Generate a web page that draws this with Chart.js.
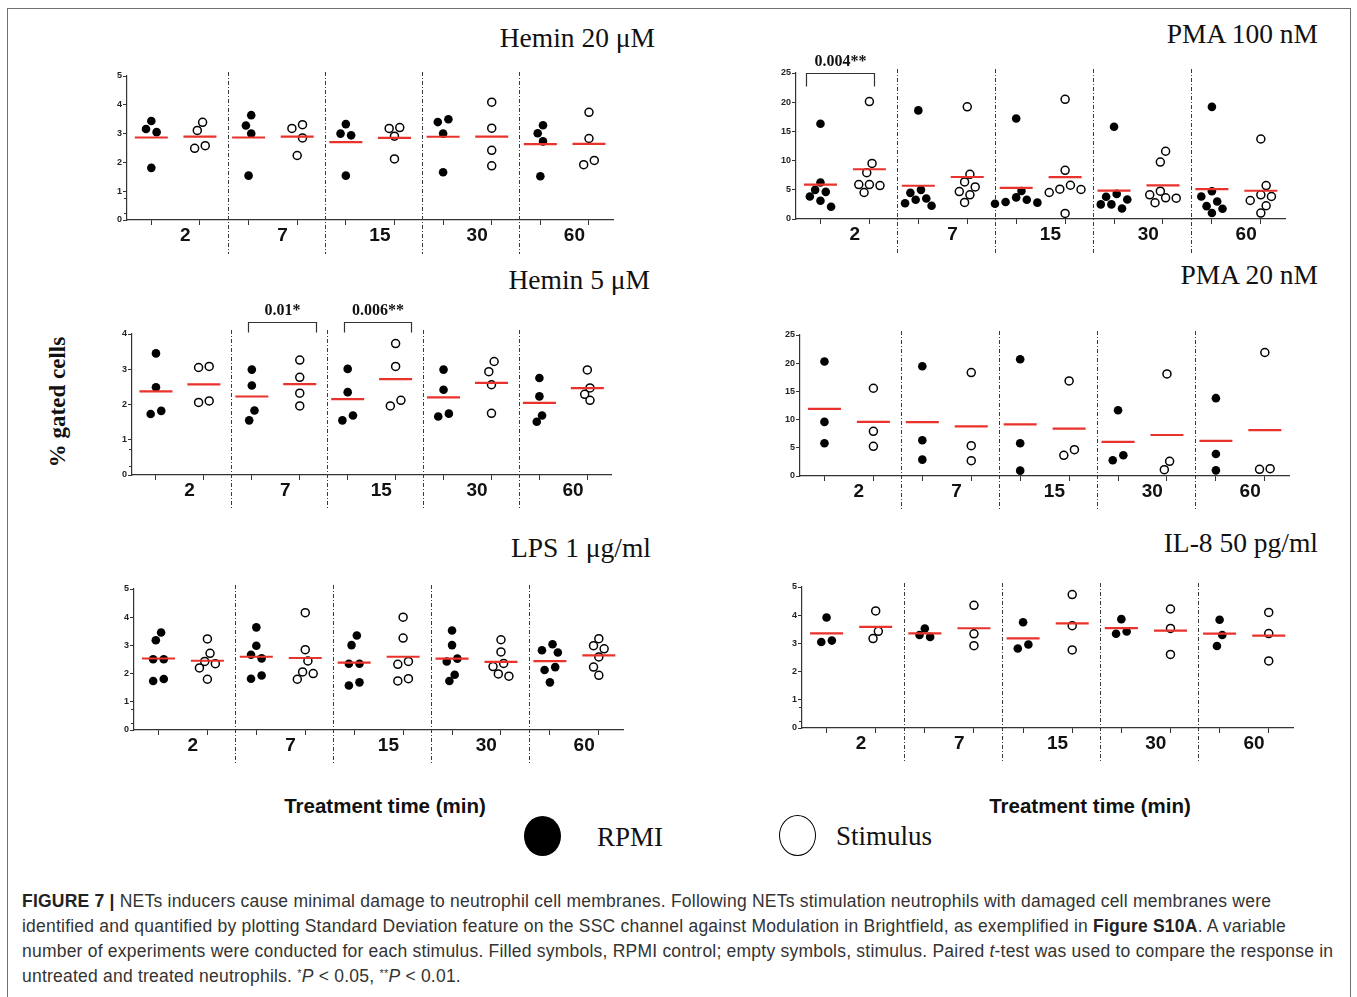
<!DOCTYPE html>
<html>
<head>
<meta charset="utf-8">
<script src="https://cdn.jsdelivr.net/npm/chart.js@4.4.1/dist/chart.umd.min.js"></script>
<style>
  html, body { margin: 0; padding: 0; background: #fff; }
  body { width: 1357px; height: 997px; position: relative; overflow: hidden;
         font-family: "Liberation Sans", Arial, sans-serif; }
  #frame { position: absolute; left: 7px; top: 8px; width: 1342px; height: 1000px;
           border: 1.5px solid #707070; border-bottom: none; }
  canvas { position: absolute; }
  .ttl { position: absolute; font-family: "Liberation Serif", "Times New Roman", serif;
         font-size: 27.5px; color: #111; white-space: nowrap; line-height: 30px; }
  .xt { position: absolute; font-weight: bold; font-size: 20.5px; color: #111;
        white-space: nowrap; line-height: 22px; transform: translateX(-50%); }
  #ylab { position: absolute; left: 58px; top: 402px; font-family: "Liberation Serif", serif;
          font-weight: bold; font-size: 23px; color: #111; white-space: nowrap;
          transform: translate(-50%, -50%) rotate(-90deg); }
  .leg { position: absolute; font-family: "Liberation Serif", serif; font-size: 27px;
         color: #111; line-height: 30px; white-space: nowrap; }
  .dot { position: absolute; border-radius: 50%; box-sizing: border-box; }
  #caption { position: absolute; left: 22px; top: 889px; font-size: 17.5px; line-height: 25px;
             letter-spacing: 0.22px; color: #333; white-space: nowrap; }
  #caption b { color: #222; }
  .sup { position: relative; top: -0.45em; font-size: 11px; }
</style>
</head>
<body>
<div id="frame"></div>

<div class="ttl" style="right:702px; top:23px;">Hemin 20 μM</div>
<div class="ttl" style="right:39px; top:19px;">PMA 100 nM</div>
<div class="ttl" style="right:707px; top:265px;">Hemin 5 μM</div>
<div class="ttl" style="right:39px; top:260px;">PMA 20 nM</div>
<div class="ttl" style="right:706px; top:533px;">LPS 1 μg/ml</div>
<div class="ttl" style="right:39px; top:528px;">IL-8 50 pg/ml</div>

<div id="ylab">% gated cells</div>

<div class="xt" style="left:385px; top:795px;">Treatment time (min)</div>
<div class="xt" style="left:1090px; top:795px;">Treatment time (min)</div>

<div class="dot" style="left:524px; top:816px; width:37px; height:40px; background:#000;"></div>
<div class="leg" style="left:597px; top:822px;">RPMI</div>
<div class="dot" style="left:779px; top:815px; width:37px; height:41px; border:1.6px solid #000;"></div>
<div class="leg" style="left:836px; top:821px;">Stimulus</div>

<div id="caption">
<b>FIGURE 7 |</b> NETs inducers cause minimal damage to neutrophil cell membranes. Following NETs stimulation neutrophils with damaged cell membranes were<br>
identified and quantified by plotting Standard Deviation feature on the SSC channel against Modulation in Brightfield, as exemplified in <b>Figure S10A</b>. A variable<br>
number of experiments were conducted for each stimulus. Filled symbols, RPMI control; empty symbols, stimulus. Paired <i>t</i>-test was used to compare the response in<br>
untreated and treated neutrophils. <span class="sup">*</span><i>P</i> &lt; 0.05, <span class="sup">**</span><i>P</i> &lt; 0.01.
</div>

<script>
// treatment times (min), one group of two columns each
const times = ["2", "7", "15", "30", "60"];

// Hemin 20 µM
const hemin20Rpmi = [[3.44, 3.16, 3.05, 1.81], [3.64, 3.28, 3.0, 1.54], [3.33, 3.0, 2.94, 1.54], [3.5, 3.4, 3.0, 1.66], [3.29, 3.01, 2.73, 1.52]];
const hemin20Stim = [[3.39, 3.11, 2.58, 2.49], [3.31, 3.18, 2.85, 2.24], [3.21, 3.18, 2.91, 2.12], [4.09, 3.19, 2.42, 1.88], [3.74, 2.83, 2.07, 1.92]];

// PMA 100 nM
const pma100Rpmi = [[16.3, 6.24, 4.99, 4.65, 3.85, 3.12, 2.1], [18.6, 4.99, 4.48, 3.51, 3.29, 2.7, 2.27], [17.2, 4.8, 3.7, 3.3, 2.9, 2.8, 2.6], [15.8, 4.3, 3.8, 3.34, 2.5, 2.5, 1.8], [19.2, 4.76, 3.85, 3.0, 2.2, 1.76, 1.02]];
const pma100Stim = [[20.1, 9.52, 7.94, 5.9, 5.9, 5.73, 4.54], [19.2, 7.65, 6.35, 5.5, 4.7, 4.14, 2.83], [20.5, 8.33, 5.78, 5.1, 5.05, 4.54, 0.96], [11.6, 9.75, 4.76, 4.14, 3.63, 3.57, 2.78], [13.7, 5.73, 4.14, 3.85, 3.17, 2.27, 1.02]];
const pma100Sig = [{ group: 0, text: "0.004**" }];

// Hemin 5 µM
const hemin5Rpmi = [[3.45, 2.49, 1.82, 1.73], [2.99, 2.54, 1.83, 1.55], [3.01, 2.35, 1.69, 1.55], [2.99, 2.42, 1.74, 1.66], [2.75, 2.23, 1.69, 1.51]];
const hemin5Stim = [[3.08, 3.05, 2.1, 2.06], [3.26, 2.77, 2.32, 1.96], [3.73, 3.08, 2.12, 1.96], [3.22, 2.93, 2.56, 1.75], [2.98, 2.47, 2.29, 2.12]];
const hemin5Sig = [{ group: 1, text: "0.01*" }, { group: 2, text: "0.006**" }];

// PMA 20 nM
const pma20Rpmi = [[20.3, 9.59, 5.8], [19.47, 6.33, 2.9], [20.7, 5.8, 0.95], [11.66, 3.67, 2.78], [13.8, 3.9, 1.0]];
const pma20Stim = [[15.56, 7.93, 5.27], [18.34, 5.38, 2.72], [16.86, 4.67, 3.67], [18.1, 2.6, 1.12], [21.9, 1.3, 1.18]];

// LPS 1 µg/ml
const lpsRpmi = [[3.46, 3.18, 2.51, 2.51, 1.81, 1.74], [3.64, 2.99, 2.67, 2.54, 1.93, 1.82], [3.35, 3.01, 2.35, 2.35, 1.69, 1.58], [3.53, 3.01, 2.53, 2.43, 1.96, 1.74], [3.04, 2.83, 2.75, 2.23, 2.13, 1.69]];
const lpsStim = [[3.23, 2.72, 2.43, 2.35, 2.2, 1.8], [4.16, 2.85, 2.45, 2.06, 2.0, 1.8], [4.0, 3.26, 2.43, 2.33, 1.82, 1.74], [3.2, 2.77, 2.36, 2.25, 1.99, 1.91], [3.24, 2.99, 2.88, 2.59, 2.23, 1.94]];

// IL-8 50 pg/ml
const il8Rpmi = [[3.92, 3.1, 3.05], [3.53, 3.3, 3.23], [3.75, 2.96, 2.82], [3.86, 3.42, 3.34], [3.84, 3.3, 2.91]];
const il8Stim = [[4.15, 3.43, 3.17], [4.35, 3.34, 2.92], [4.73, 3.63, 2.77], [4.22, 3.53, 2.61], [4.1, 3.35, 2.38]];

// minor ticks under 1 on the small scales
const minorTicks = [0.25, 0.75];

const AXW = 42, PADT = 50, PADR = 8, XAH = 34;
const STEP = 5.3, GAP = 8, ROWH = 11;   // swarm spacing in px
const RED = "#e8322b";

const mean = a => a.reduce((s, v) => s + v, 0) / a.length;

const decor = {
    id: "decor",
    beforeDatasetsDraw(chart) {
        const { ctx, chartArea: a, scales: { x } } = chart;
        ctx.save();
        ctx.strokeStyle = "#3a3a3a";
        ctx.lineWidth = 1;
        ctx.setLineDash([4, 2, 1, 2]);
        for (let g = 0; g < times.length - 1; g++) {
            const px = Math.round(x.getPixelForValue(2 * g + 1.57)) + 0.5;
            ctx.beginPath();
            ctx.moveTo(px, a.top - 4);
            ctx.lineTo(px, chart.height);
            ctx.stroke();
        }
        ctx.restore();
    },
    afterDraw(chart, args, opts) {
        const { ctx, chartArea: a, scales: { x, y } } = chart;
        ctx.save();
        // group labels
        ctx.fillStyle = "#111";
        ctx.font = 'bold 19px "Liberation Sans", Arial, sans-serif';
        ctx.textAlign = "center";
        ctx.textBaseline = "middle";
        times.forEach((t, g) => {
            ctx.fillText(t, x.getPixelForValue(2 * g + 0.7), a.bottom + 16);
        });
        // minor ticks
        ctx.strokeStyle = "#333";
        ctx.lineWidth = 1;
        (opts.minor || []).forEach(v => {
            const py = Math.round(y.getPixelForValue(v)) + 0.5;
            ctx.beginPath();
            ctx.moveTo(a.left, py);
            ctx.lineTo(a.left - 3, py);
            ctx.stroke();
        });
        // significance brackets
        (opts.sig || []).forEach(s => {
            const x1 = Math.round(x.getPixelForValue(2 * s.group + opts.span[0])) + 0.5;
            const x2 = Math.round(x.getPixelForValue(2 * s.group + opts.span[1])) + 0.5;
            const yb = Math.round(a.top - opts.lift) + 0.5;
            ctx.strokeStyle = "#333";
            ctx.lineWidth = 1.2;
            ctx.beginPath();
            ctx.moveTo(x1, yb + opts.leg);
            ctx.lineTo(x1, yb);
            ctx.lineTo(x2, yb);
            ctx.lineTo(x2, yb + opts.leg);
            ctx.stroke();
            ctx.fillStyle = "#111";
            ctx.font = 'bold 16px "Liberation Serif", "Times New Roman", serif';
            ctx.textBaseline = "middle";
            ctx.fillText(s.text, (x1 + x2) / 2, yb - 12);
        });
        ctx.restore();
    }
};

// spread points of each column sideways so they do not overlap
function swarm(chart, groups, offset) {
    const xs = chart.scales.x, ys = chart.scales.y;
    const pts = [];
    const hits = (p, dx, py) =>
        Math.hypot(p.dx - dx, p.py - py) < GAP ||
        (Math.abs(p.dx - dx) < 2 && Math.abs(p.py - py) < ROWH);
    groups.forEach((vals, g) => {
        const cx = xs.getPixelForValue(2 * g + offset);
        const sorted = vals.slice().sort((p, q) => q - p);
        let cluster = [];
        const flush = () => {
            const placed = [];
            cluster.forEach(v => {
                const py = ys.getPixelForValue(v);
                for (let k = 0; k < 40; k++) {
                    const dx = (k % 2 ? -1 : 1) * Math.ceil(k / 2) * STEP;
                    if (!placed.some(p => hits(p, dx, py))) {
                        placed.push({ dx, py, v });
                        break;
                    }
                }
            });
            const lo = Math.min(...placed.map(p => p.dx));
            const hi = Math.max(...placed.map(p => p.dx));
            const shift = (lo + hi) / 2;
            placed.forEach(p => pts.push({ x: xs.getValueForPixel(cx + p.dx - shift), y: p.v }));
        };
        sorted.forEach((v, i) => {
            if (i > 0 && ys.getPixelForValue(v) - ys.getPixelForValue(sorted[i - 1]) >= ROWH) {
                flush();
                cluster = [];
            }
            cluster.push(v);
        });
        flush();
    });
    return pts;
}

function panel(box, yMax, yStep, rpmi, stim, extra) {
    const cv = document.createElement("canvas");
    const w = box.r - box.l + AXW + PADR;
    const h = box.b - box.t + PADT + XAH;
    cv.width = w;
    cv.height = h;
    cv.style.left = (box.l - AXW) + "px";
    cv.style.top = (box.t - PADT) + "px";
    document.body.appendChild(cv);

    const flat = (groups, off) => groups.flatMap((vals, g) => vals.map(v => ({ x: 2 * g + off, y: v })));
    const means = [];
    rpmi.forEach((vals, g) => means.push({ x: 2 * g, y: mean(vals) }));
    stim.forEach((vals, g) => means.push({ x: 2 * g + 1, y: mean(vals) }));

    const chart = new Chart(cv, {
        type: "scatter",
        data: {
            datasets: [
                {
                    label: "Mean",
                    data: means,
                    order: 0,
                    pointStyle: "line",
                    pointRadius: 16.5,
                    borderColor: RED,
                    borderWidth: 2.2,
                    clip: false
                },
                {
                    label: "Stimulus",
                    data: flat(stim, 1),
                    order: 1,
                    pointRadius: 4,
                    backgroundColor: "#fff",
                    borderColor: "#000",
                    borderWidth: 1.5,
                    clip: false
                },
                {
                    label: "RPMI",
                    data: flat(rpmi, 0),
                    order: 2,
                    pointRadius: 4.3,
                    backgroundColor: "#000",
                    borderWidth: 0,
                    clip: false
                }
            ]
        },
        options: {
            responsive: false,
            animation: false,
            devicePixelRatio: 1,
            layout: { padding: { top: PADT, right: PADR, left: 0, bottom: 0 } },
            plugins: {
                legend: { display: false },
                tooltip: { enabled: false },
                decor: extra
            },
            scales: {
                x: {
                    type: "linear",
                    min: -0.5,
                    max: 9.5,
                    afterBuildTicks: s => { s.ticks = [0, 1, 2, 3, 4, 5, 6, 7, 8, 9].map(v => ({ value: v })); },
                    afterFit: s => { s.height = XAH; },
                    ticks: { callback: () => "" },
                    grid: { drawOnChartArea: false, tickLength: 5, color: "#333", lineWidth: 1 },
                    border: { color: "#333", width: 1.2 }
                },
                y: {
                    min: 0,
                    max: yMax,
                    afterFit: s => { s.width = AXW; },
                    ticks: {
                        stepSize: yStep,
                        color: "#222",
                        padding: 1,
                        font: { family: '"Liberation Sans", Arial, sans-serif', size: 9, weight: "bold" }
                    },
                    grid: { drawOnChartArea: false, tickLength: 4, color: "#333", lineWidth: 1 },
                    border: { color: "#333", width: 1.2 }
                }
            }
        },
        plugins: [decor]
    });

    chart.data.datasets[1].data = swarm(chart, stim, 1);
    chart.data.datasets[2].data = swarm(chart, rpmi, 0);
    chart.update("none");
    return chart;
}

panel({ l: 127, t: 76, r: 624, b: 220 }, 5, 1, hemin20Rpmi, hemin20Stim, { minor: minorTicks });
panel({ l: 796, t: 73, r: 1296, b: 219 }, 25, 5, pma100Rpmi, pma100Stim, { sig: pma100Sig, span: [-0.3, 1.1], lift: 0, leg: 13 });
panel({ l: 132, t: 334, r: 622, b: 475 }, 4, 1, hemin5Rpmi, hemin5Stim, { minor: minorTicks, sig: hemin5Sig, span: [-0.08, 1.33], lift: 12, leg: 10 });
panel({ l: 800, t: 335, r: 1300, b: 476 }, 25, 5, pma20Rpmi, pma20Stim, {});
panel({ l: 134, t: 589, r: 634, b: 730 }, 5, 1, lpsRpmi, lpsStim, { minor: minorTicks });
panel({ l: 802, t: 587, r: 1304, b: 728 }, 5, 1, il8Rpmi, il8Stim, { minor: minorTicks });
</script>
</body>
</html>
